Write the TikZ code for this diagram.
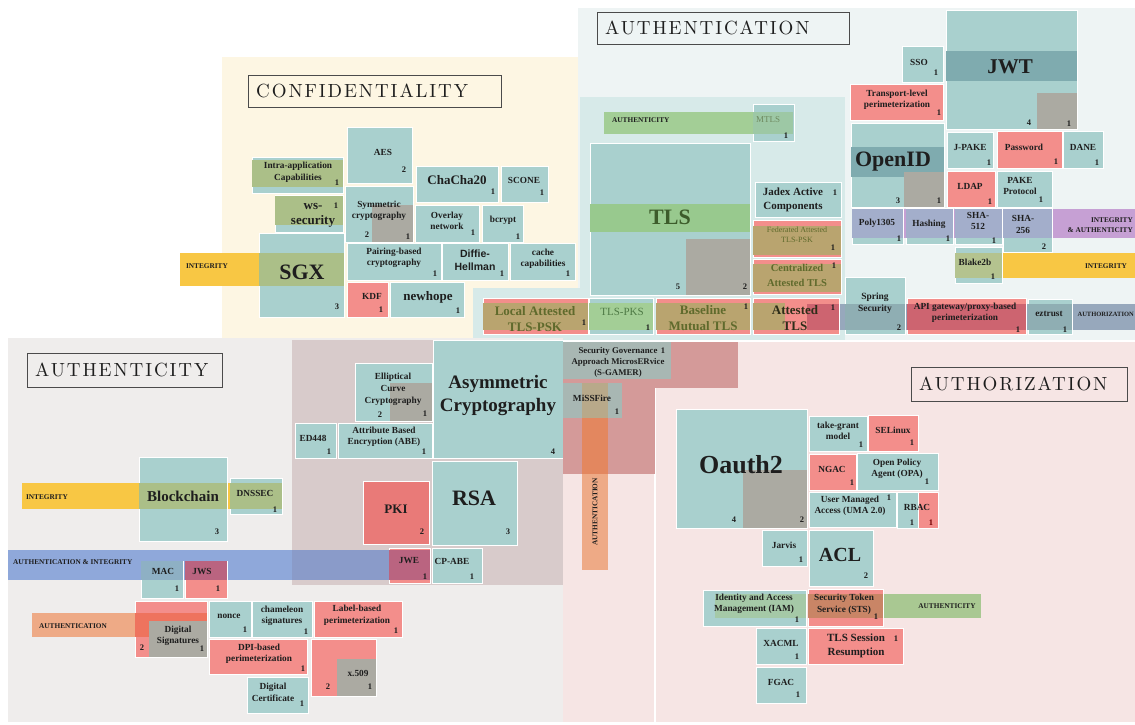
\documentclass[tikz,border=0pt]{standalone}
\usepackage{fontspec}
\setmainfont{Liberation Serif}
\setsansfont{Liberation Sans}
\newfontfamily\ttlfont{lmroman10-regular.otf}[LetterSpace=10]
\definecolor{cteal}{HTML}{A9D0CE}
\definecolor{cred}{HTML}{F38E8B}
\definecolor{cpki}{HTML}{E97A78}
\definecolor{cgray}{HTML}{ABAAA2}
\definecolor{colive}{HTML}{ABBF88}
\definecolor{colivetwo}{HTML}{B4C38F}
\definecolor{ckhaki}{HTML}{B9A46F}
\definecolor{cgreen}{HTML}{A3CE96}
\definecolor{cgreentwo}{HTML}{A9C892}
\definecolor{cmtlsg}{HTML}{9DC8A5}
\definecolor{ctlsg}{HTML}{98C98E}
\definecolor{cyellow}{HTML}{F8C744}
\definecolor{cdteal}{HTML}{7FABAF}
\definecolor{cpurple}{HTML}{C6A0D4}
\definecolor{cpurteal}{HTML}{A3AECB}
\definecolor{cblue}{HTML}{8FA8DA}
\definecolor{cblued}{HTML}{8A9BC9}
\definecolor{cblueteal}{HTML}{8EB0C4}
\definecolor{ccrimson}{HTML}{BA6480}
\definecolor{corange}{HTML}{EEAA86}
\definecolor{corred}{HTML}{EE735E}
\definecolor{cauthz}{HTML}{97A8BC}
\definecolor{cauthzteal}{HTML}{8FAEB3}
\definecolor{cauthzred}{HTML}{CD6470}
\definecolor{csgamer}{HTML}{D49A99}
\definecolor{csgteal}{HTML}{A8B7B3}
\definecolor{cbeige}{HTML}{B8A98A}
\definecolor{corangetwo}{HTML}{E3875F}
\definecolor{cstsg}{HTML}{C98566}
\definecolor{ciamg}{HTML}{A5C9A7}
\definecolor{bgconf}{HTML}{FDF6E3}
\definecolor{bgauthn}{HTML}{EEF4F4}
\definecolor{bgtls}{HTML}{D7EAE9}
\definecolor{bgauthy}{HTML}{EFEDEC}
\definecolor{bgasym}{HTML}{D8CBCB}
\definecolor{bgauthz}{HTML}{F6E5E4}
\definecolor{ctxt}{HTML}{1E1E1E}
\definecolor{colivetxt}{HTML}{5F6A2C}
\definecolor{ctlstxt}{HTML}{3D5C2B}
\definecolor{cmtlstxt}{HTML}{6F8A60}
\definecolor{cpkstxt}{HTML}{4E7A45}
\begin{document}
\begin{tikzpicture}[x=1pt,y=-1pt,
  tb/.style={fill=cteal,draw=white,line width=0.7pt},
  rb/.style={fill=cred,draw=white,line width=0.7pt},
  lbl/.style={font=\bfseries\fontsize{9.3}{11.5}\selectfont,text=ctxt,align=center,inner sep=0pt},
  mid/.style={lbl,font=\bfseries\fontsize{11}{14}\selectfont},
  lrg/.style={lbl,font=\bfseries\fontsize{13}{16}\selectfont},
  hg/.style={lbl,font=\bfseries\fontsize{#1}{#1}\selectfont},
  num/.style={font=\bfseries\fontsize{8.5}{9}\selectfont,text=ctxt,inner sep=0pt},
  tag/.style={font=\bfseries\fontsize{7.3}{9.5}\selectfont,text=ctxt,inner sep=0pt},
  ttlbox/.style={draw=ctxt!80,line width=0.6pt,anchor=north west,inner sep=0pt},
  ttl/.style={font=\ttlfont\fontsize{19}{19}\selectfont,text=ctxt,anchor=west,inner sep=0pt}]
\useasboundingbox (0,0) rectangle (1135,725);
\fill[white] (0,0) rectangle (1135,725);
% ---------- region backgrounds
\fill[bgconf] (222,57) rectangle (578,338);
\fill[bgauthn] (578,8) rectangle (1135,340);
\fill[bgtls] (580,97) rectangle (845,340);
\fill[bgtls] (473,288) rectangle (580,340);
\fill[bgauthy] (8,338) rectangle (563,722);
\fill[bgasym] (292,340) rectangle (563,585);
\fill[bgauthz] (563,342) rectangle (1135,722);
\draw[white,line width=1.2pt] (655,388) -- (655,722);
% ---------- titles
\node[ttlbox,minimum width=253,minimum height=32] (tconf) at (248,75) {};
\node[ttl] (tconft) at ([xshift=8pt]tconf.west) {CONFIDENTIALITY};
\node[ttlbox,minimum width=252,minimum height=32] (tauthn) at (597,12) {};
\node[ttl] (tauthnt) at ([xshift=8pt]tauthn.west) {AUTHENTICATION};
\node[ttlbox,minimum width=195,minimum height=34] (tauthy) at (27,353) {};
\node[ttl] (tauthyt) at ([xshift=8pt]tauthy.west) {AUTHENTICITY};
\node[ttlbox,minimum width=216,minimum height=34] (tauthz) at (911,367) {};
\node[ttl] (tauthzt) at ([xshift=8pt]tauthz.west) {AUTHORIZATION};
% ================= CONFIDENTIALITY
\path[tb] (347,127) rectangle (412,183);
\node[lbl] (aes) at (383,152) {AES};
\node[num] (aesn) at (404,170) {2};
\path[tb] (252,157) rectangle (343,193);
\fill[colive] (252,160) rectangle (343,187);
\node[lbl] (intra) at (298,172.5) {Intra-application\\Capabilities};
\node[num] (intran) at (337,183) {1};
\path[tb] (275,195) rectangle (343,232);
\fill[colive] (275,196) rectangle (343,225);
\node[lrg,font=\bfseries\fontsize{13}{15}\selectfont] (wss) at (313,215) {ws-\\security};
\node[num] (wssn) at (336,206) {1};
\path[tb] (345,186) rectangle (413,242);
\fill[cgray] (372,205) rectangle (413,242);
\node[lbl] (sym) at (379,211) {Symmetric\\cryptography};
\node[num] (symn) at (367,235) {2};
\node[num] (symm) at (408,237) {1};
\path[tb] (416,166) rectangle (498,202);
\node[lrg] (chacha) at (457,180) {ChaCha20};
\node[num] (chachan) at (493,192) {1};
\path[tb] (501,166) rectangle (548,202);
\node[lbl] (scone) at (524,180) {SCONE};
\node[num] (sconen) at (542,193) {1};
\path[tb] (415,205) rectangle (479,242);
\node[lbl] (overlay) at (447,221) {Overlay\\network};
\node[num] (overlayn) at (473,233) {1};
\path[tb] (482,205) rectangle (523,242);
\node[lbl] (bcrypt) at (503,220) {bcrypt};
\node[num] (bcryptn) at (518,237) {1};
\path[tb] (259,233) rectangle (344,317);
\fill[cyellow] (180,253) rectangle (259,286);
\fill[colive] (259,253) rectangle (344,286);
\node[hg=22] (sgx) at (302,272) {SGX};
\node[num] (sgxn) at (337,307) {3};
\node[tag] (intg1) at (207,266) {INTEGRITY};
\path[tb] (347,243) rectangle (441,280);
\node[lbl] (pairing) at (394,258) {Pairing-based\\cryptography};
\node[num] (pairingn) at (435,274) {1};
\path[tb] (442,243) rectangle (508,280);
\node[lbl,font=\sffamily\bfseries\fontsize{10.5}{12.5}\selectfont] (dh) at (475,260) {Diffie-\\Hellman};
\node[num] (dhn) at (502,274) {1};
\path[tb] (510,243) rectangle (575,280);
\node[lbl] (cache) at (543,259) {cache\\capabilities};
\node[num] (cachen) at (568,274) {1};
\path[rb] (347,282) rectangle (388,317);
\node[lbl] (kdf) at (372,296) {KDF};
\node[num] (kdfn) at (381,310) {1};
\path[tb] (390,282) rectangle (464,317);
\node[lrg] (newhope) at (428,297) {newhope};
\node[num] (newhopen) at (458,311) {1};
% ================= AUTHENTICATION: TLS group
\fill[cgreen] (604,112) rectangle (753,134);
\path[tb] (753,104) rectangle (794,141);
\fill[cmtlsg] (753,112) rectangle (793,134);
\node[tag,anchor=west] (authy1) at (612,120) {AUTHENTICITY};
\node[lbl,text=cmtlstxt,font=\fontsize{9}{11}\selectfont] (mtls) at (768,120) {MTLS};
\node[num] (mtlsn) at (786,136) {1};
\path[tb] (590,143) rectangle (750,295);
\fill[ctlsg] (590,204) rectangle (750,232);
\fill[cgray] (686,239) rectangle (750,295);
\node[hg=22,text=ctlstxt] (tls) at (670,217) {TLS};
\node[num] (tlsn) at (678,287) {5};
\node[num] (tlsm) at (745,287) {2};
\path[tb] (755,182) rectangle (841,217);
\node[mid] (jadex) at (793,200) {Jadex Active\\Components};
\node[num] (jadexn) at (835,193) {1};
\path[rb] (753,220) rectangle (841,257);
\fill[ckhaki] (753,226) rectangle (841,255);
\node[lbl,text=colivetxt,font=\fontsize{8}{10}\selectfont] (fed) at (797,235) {Federated Attested\\TLS-PSK};
\node[num] (fedn) at (833,248) {1};
\path[rb] (753,259) rectangle (841,294);
\fill[ckhaki] (753,264) rectangle (841,292);
\node[lbl,text=colivetxt,font=\bfseries\fontsize{10.5}{14.5}\selectfont] (cent) at (797,275.5) {Centralized\\Attested TLS};
\node[num] (centn) at (834,266) {1};
% bottom row
\fill[cauthz] (807,304) rectangle (1135,330);
\path[rb] (483,298) rectangle (588,334);
\fill[ckhaki] (483,303) rectangle (588,330);
\begin{scope}
\clip (483,298) rectangle (588,334);
\node[lrg,text=colivetxt] (local) at (535,319) {Local Attested\\TLS-PSK};
\end{scope}
\node[num] (localn) at (584,323) {1};
\path[tb] (589,298) rectangle (653,334);
\fill[cgreen] (589,303) rectangle (653,330);
\node[lbl,text=cpkstxt,font=\fontsize{11}{13}\selectfont] (pks) at (622,312) {TLS-PKS};
\node[num] (pksn) at (648,328) {1};
\path[rb] (656,298) rectangle (750,334);
\fill[ckhaki] (656,303) rectangle (750,330);
\begin{scope}
\clip (656,298) rectangle (750,334);
\node[lrg,text=colivetxt] (base) at (703,318.5) {Baseline\\Mutual TLS};
\end{scope}
\node[num] (basen) at (746,307) {1};
\path[rb] (753,298) rectangle (839,334);
\fill[ckhaki] (753,303) rectangle (785,330);
\fill[cauthzred] (807,304) rectangle (839,330);
\begin{scope}
\clip (753,298) rectangle (839,334);
\node[lrg,text=ctxt!85!olive] (att) at (795,318.5) {Attested\\TLS};
\end{scope}
\node[num] (attn) at (833,308) {1};
\path[tb] (845,277) rectangle (905,334);
\fill[cauthzteal] (845,304) rectangle (905,330);
\node[lbl,font=\bfseries\fontsize{9.5}{12}\selectfont] (spring) at (875,303) {Spring\\Security};
\node[num] (springn) at (899,328) {2};
\path[rb] (907,298) rectangle (1026,334);
\fill[cauthzred] (907,304) rectangle (1026,330);
\node[lbl] (api) at (965,313) {API gateway/proxy-based\\perimeterization};
\node[num] (apin) at (1018,330) {1};
\path[tb] (1028,299) rectangle (1072,334);
\fill[cauthzteal] (1028,304) rectangle (1072,330);
\node[lbl] (eztrust) at (1049,314) {eztrust};
\node[num] (eztrustn) at (1065,330) {1};
\node[tag,font=\bfseries\fontsize{6.5}{8}\selectfont,anchor=east] (authz1) at (1134,314) {AUTHORIZATION};
% ================= AUTHENTICATION: right part
\path[tb] (902,46) rectangle (943,82);
\node[lbl] (sso) at (919,62) {SSO};
\node[num] (sson) at (936,73) {1};
\path[tb] (946,10) rectangle (1077,129);
\fill[cdteal] (946,51) rectangle (1077,81);
\fill[cgray] (1037,93) rectangle (1077,129);
\node[hg=21] (jwt) at (1010,67) {JWT};
\node[num] (jwtn) at (1029,123) {4};
\node[num] (jwtm) at (1069,124) {1};
\path[rb] (850,84) rectangle (943,120);
\node[lbl] (transport) at (897,100) {Transport-level\\perimeterization};
\node[num] (transportn) at (939,113) {1};
\path[tb] (851,123) rectangle (944,207);
\fill[cdteal] (851,147) rectangle (944,177);
\fill[cgray] (904,172) rectangle (944,207);
\node[hg=22] (openid) at (893,162) {OpenID};
\node[num] (openidn) at (898,201) {3};
\node[num] (openidm) at (939,201) {1};
\path[tb] (947,132) rectangle (993,168);
\node[lbl] (jpake) at (970,147) {J-PAKE};
\node[num] (jpaken) at (989,163) {1};
\path[rb] (997,131) rectangle (1062,168);
\node[lbl] (password) at (1024,147) {Password};
\node[num] (passwordn) at (1056,162) {1};
\path[tb] (1063,131) rectangle (1103,168);
\node[lbl] (dane) at (1083,147) {DANE};
\node[num] (danen) at (1097,163) {1};
\path[rb] (947,171) rectangle (995,207);
\node[lbl] (ldap) at (970,186) {LDAP};
\node[num] (ldapn) at (990,202) {1};
\path[tb] (997,171) rectangle (1052,207);
\node[lbl] (pake) at (1020,186) {PAKE\\Protocol};
\node[num] (paken) at (1041,200) {1};
\fill[cpurple] (852,209) rectangle (1135,238);
\path[tb] (852,208) rectangle (903,244);
\fill[cpurteal] (852,209) rectangle (903,238);
\node[lbl] (poly) at (877,223) {Poly1305};
\node[num] (polyn) at (899,239) {1};
\path[tb] (906,208) rectangle (953,244);
\fill[cpurteal] (906,209) rectangle (953,238);
\node[lbl] (hashing) at (929,224) {Hashing};
\node[num] (hashingn) at (948,239) {1};
\path[tb] (955,208) rectangle (1002,244);
\fill[cpurteal] (955,209) rectangle (1002,238);
\node[lbl] (sha5) at (978,221) {SHA-\\512};
\node[num] (sha5n) at (994,241) {1};
\path[tb] (1003,208) rectangle (1052,252);
\fill[cpurteal] (1003,209) rectangle (1052,238);
\node[lbl] (sha2) at (1023,224.5) {SHA-\\256};
\node[num] (sha2n) at (1044,247) {2};
\node[tag,anchor=east,align=right] (intauth) at (1133,225) {INTEGRITY\\\& AUTHENTICITY};
\fill[cyellow] (1002,253) rectangle (1135,278);
\path[tb] (955,247) rectangle (1002,283);
\fill[colivetwo] (955,253) rectangle (1002,278);
\node[lbl] (blake) at (975,262) {Blake2b};
\node[num] (blaken) at (993,277) {1};
\node[tag] (intg2) at (1106,266) {INTEGRITY};
% ================= AUTHENTICITY
\fill[cyellow] (22,483) rectangle (282,509);
\path[tb] (139,457) rectangle (227,541);
\fill[colive] (139,483) rectangle (227,509);
\node[lbl,font=\bfseries\fontsize{15}{15}\selectfont] (block) at (183,496) {Blockchain};
\node[num] (blockn) at (217,532) {3};
\node[tag] (intg3) at (47,497) {INTEGRITY};
\path[tb] (230,478) rectangle (282,514);
\fill[colive] (230,483) rectangle (282,509);
\node[lbl] (dnssec) at (255,493) {DNSSEC};
\node[num] (dnssecn) at (275,510) {1};
\fill[cblue] (8,550) rectangle (292,580);
\fill[cblued] (292,550) rectangle (389,580);
\node[tag,anchor=west] (authint) at (13,562) {AUTHENTICATION \& INTEGRITY};
\path[tb] (141,561) rectangle (183,598);
\fill[cblueteal] (141,561) rectangle (183,580);
\node[lbl] (mac) at (163,571) {MAC};
\node[num] (macn) at (177,589) {1};
\path[rb] (185,561) rectangle (227,598);
\fill[ccrimson] (185,561) rectangle (227,580);
\node[lbl] (jws) at (202,571) {JWS};
\node[num] (jwsn) at (218,589) {1};
% asymmetric group
\path[tb] (355,363) rectangle (432,421);
\fill[cgray] (390,383) rectangle (432,421);
\node[lbl,font=\bfseries\fontsize{9.3}{12}\selectfont] (ecc) at (393,389) {Elliptical\\Curve\\Cryptography};
\node[num] (eccn) at (380,415) {2};
\node[num] (eccm) at (425,414) {1};
\path[tb] (295,423) rectangle (336,458);
\node[lbl] (ed) at (313,438) {ED448};
\node[num] (edn) at (329,452) {1};
\path[tb] (338,423) rectangle (432,458);
\node[lbl] (abe) at (384,437) {Attribute Based\\Encryption (ABE)};
\node[num] (aben) at (424,452) {1};
\path[tb] (433,340) rectangle (563,458);
\node[lbl,font=\bfseries\fontsize{19}{23}\selectfont] (asym) at (498,395.5) {Asymmetric\\Cryptography};
\node[num] (asymn) at (553,452) {4};
\path[tb] (432,461) rectangle (517,545);
\node[hg=22] (rsa) at (474,498) {RSA};
\node[num] (rsan) at (508,532) {3};
\path[tb,fill=cpki] (363,481) rectangle (429,544);
\node[lrg] (pki) at (396,509) {PKI};
\node[num] (pkin) at (422,532) {2};
\path[rb] (389,548) rectangle (430,583);
\fill[ccrimson] (389,550) rectangle (430,580);
\node[lbl] (jwe) at (409,561) {JWE};
\node[num] (jwen) at (425,577) {1};
\path[tb] (432,548) rectangle (482,583);
\node[lbl] (cpabe) at (452,561) {CP-ABE};
\node[num] (cpaben) at (472,577) {1};
% bottom left
\fill[corange] (32,613) rectangle (135,637);
\path[rb] (135,601) rectangle (207,657);
\fill[corred] (135,613) rectangle (207,637);
\fill[cgray] (149,621) rectangle (207,657);
\node[tag] (authn1) at (73,626) {AUTHENTICATION};
\node[lbl] (digsig) at (178,636) {Digital\\Signatures};
\node[num] (digsign) at (142,648) {2};
\node[num] (digsigm) at (202,649) {1};
\path[tb] (209,601) rectangle (251,637);
\node[lbl] (nonce) at (229,616) {nonce};
\node[num] (noncen) at (245,630) {1};
\path[tb] (252,601) rectangle (312,637);
\node[lbl] (cham) at (282,616) {chameleon\\signatures};
\node[num] (chamn) at (306,632) {1};
\path[rb] (314,601) rectangle (402,637);
\node[lbl] (label) at (357,615.5) {Label-based\\perimeterization};
\node[num] (labeln) at (396,631) {1};
\path[rb] (209,639) rectangle (307,674);
\node[lbl] (dpi) at (259,654) {DPI-based\\perimeterization};
\node[num] (dpin) at (303,669) {1};
\path[rb] (311,639) rectangle (376,696);
\fill[cgray] (337,659) rectangle (376,696);
\node[lbl] (x509) at (358,673) {x.509};
\node[num] (x509n) at (328,687) {2};
\node[num] (x509m) at (370,687) {1};
\path[tb] (247,677) rectangle (308,713);
\node[lbl] (digcert) at (273,692.5) {Digital\\Certificate};
\node[num] (digcertn) at (302,704) {1};
% ================= AUTHORIZATION
\fill[csgamer] (563,342) rectangle (738,388);
\fill[csgamer] (563,388) rectangle (655,474);
\fill[csgteal] (563,342) rectangle (671,379);
\node[lbl,font=\bfseries\fontsize{8.8}{11}\selectfont] (sgamer) at (618,362) {Security Governance\\Approach MicrosERvice\\(S-GAMER)};
\node[num] (sgamern) at (663,351) {1};
\fill[csgteal] (563,383) rectangle (622,418);
\fill[cbeige] (582,383) rectangle (608,418);
\fill[corangetwo] (582,418) rectangle (608,474);
\fill[corange] (582,474) rectangle (608,570);
\node[lbl] (missfire) at (592,398) {MiSSFire};
\node[num] (missfiren) at (617,412) {1};
\node[tag,rotate=90] (authn2) at (595,512) {AUTHENTICATION};
\path[tb] (676,409) rectangle (807,528);
\fill[cgray] (743,470) rectangle (807,528);
\node[hg=26] (oauth) at (741,465) {Oauth2};
\node[num] (oauthn) at (734,520) {4};
\node[num] (oauthm) at (802,520) {2};
\path[tb] (809,416) rectangle (867,451);
\node[lbl] (tg) at (838,431) {take-grant\\model};
\node[num] (tgn) at (861,445) {1};
\path[rb] (868,415) rectangle (918,451);
\node[lbl] (selinux) at (893,430) {SELinux};
\node[num] (selinuxn) at (912,443) {1};
\path[rb] (809,454) rectangle (856,490);
\node[lbl] (ngac) at (832,469) {NGAC};
\node[num] (ngacn) at (852,483) {1};
\path[tb] (857,453) rectangle (938,490);
\node[lbl] (opa) at (897,469) {Open Policy\\Agent (OPA)};
\node[num] (opan) at (927,482) {1};
\path[tb] (809,492) rectangle (896,527);
\node[lbl] (uma) at (850,506) {User Managed\\Access (UMA 2.0)};
\node[num] (uman) at (889,498) {1};
\path[tb] (897,492) rectangle (918,528);
\path[rb] (918,492) rectangle (938,528);
\node[lbl] (rbac) at (917,507) {RBAC};
\node[num] (rbacn) at (912,523) {1};
\node[num,text=red!45!black] (rbacm) at (931,523) {1};
\path[tb] (762,530) rectangle (807,566);
\node[lbl] (jarvis) at (784,545) {Jarvis};
\node[num] (jarvisn) at (801,560) {1};
\path[tb] (809,530) rectangle (873,586);
\node[hg=20] (acl) at (840,555) {ACL};
\node[num] (acln) at (866,576) {2};
\fill[cgreentwo] (883,594) rectangle (981,618);
\path[tb] (703,590) rectangle (806,626);
\fill[ciamg] (715,594) rectangle (806,618);
\node[lbl] (iam) at (754,604) {Identity and Access\\Management (IAM)};
\node[num] (iamn) at (797,620) {1};
\path[rb] (808,589) rectangle (883,626);
\fill[cstsg] (808,594) rectangle (883,618);
\node[lbl] (sts) at (844,604.5) {Security Token\\Service (STS)};
\node[num] (stsn) at (876,617) {1};
\node[tag] (authy2) at (947,606) {AUTHENTICITY};
\path[rb] (808,628) rectangle (903,664);
\node[mid] (tlsres) at (856,646) {TLS Session\\Resumption};
\node[num] (tlsresn) at (896,639) {1};
\path[tb] (756,628) rectangle (806,664);
\node[lbl] (xacml) at (781,643) {XACML};
\node[num] (xacmln) at (797,657) {1};
\path[tb] (756,667) rectangle (806,703);
\node[lbl] (fgac) at (781,682) {FGAC};
\node[num] (fgacn) at (798,695) {1};
\end{tikzpicture}
\end{document}
